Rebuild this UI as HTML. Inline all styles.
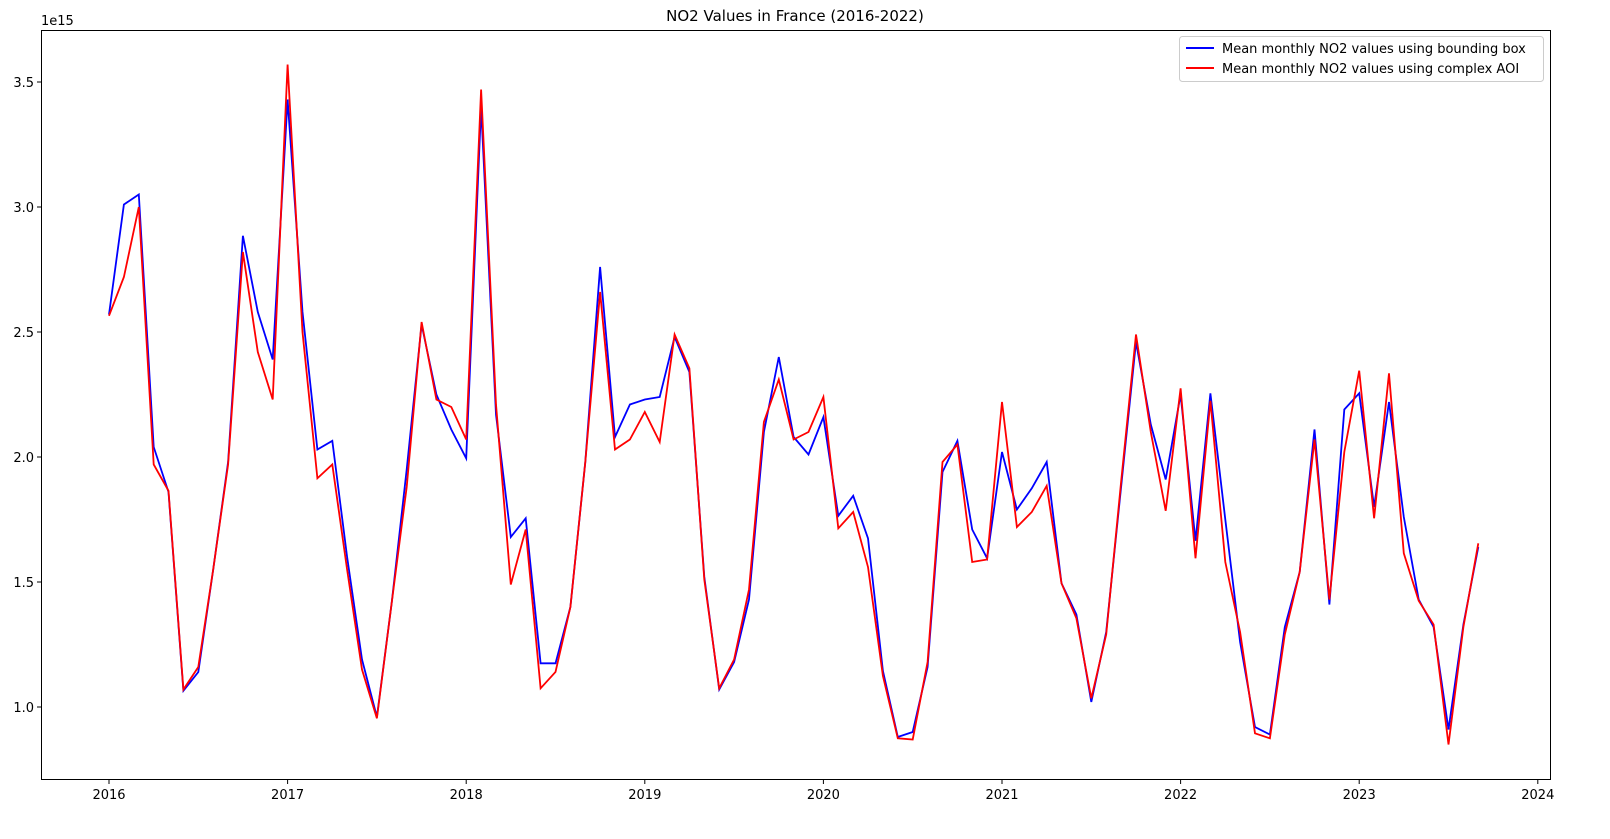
<!DOCTYPE html>
<html><head><meta charset="utf-8"><style>
body{margin:0;background:#fff;font-family:"Liberation Sans","DejaVu Sans",sans-serif}
svg text{font-family:"DejaVu Sans","Liberation Sans",sans-serif}
</style></head><body>
<svg id="chart" width="1610" height="834" xmlns="http://www.w3.org/2000/svg">
<rect width="1610" height="834" fill="#fff"/>
<text x="795" y="21" text-anchor="middle" font-size="15">NO2 Values in France (2016-2022)</text>
<text x="41" y="25" font-size="13">1e15</text>
<g id="ticks"></g>
<g id="lines"></g>
<rect x="41.5" y="30.5" width="1509" height="749" fill="none" stroke="#000" stroke-width="1"/>
<g>
<rect x="1179.5" y="36.5" width="364" height="45" rx="3" fill="#fff" stroke="#ccc"/>
<line x1="1186" y1="48" x2="1214" y2="48" stroke="#0000ff" stroke-width="2"/>
<text x="1222" y="53" font-size="13">Mean monthly NO2 values using bounding box</text>
<line x1="1186" y1="68" x2="1214" y2="68" stroke="#ff0000" stroke-width="2"/>
<text x="1222" y="73" font-size="13">Mean monthly NO2 values using complex AOI</text>
</g>
</svg>
<script>
const startYear = 2016;
const xTickLabels = ["2016","2017","2018","2019","2020","2021","2022","2023","2024"];
const yTickValues = [1.0,1.5,2.0,2.5,3.0,3.5];
const bboxValues = [2.57,3.01,3.05,2.04,1.86,1.065,1.14,1.55,1.98,2.885,2.58,2.39,
3.43,2.58,2.03,2.065,1.60,1.19,0.96,1.42,1.95,2.53,2.25,2.11,
1.995,3.40,2.17,1.68,1.755,1.175,1.175,1.40,1.98,2.76,2.08,2.21,
2.23,2.24,2.48,2.34,1.52,1.07,1.18,1.43,2.10,2.40,2.08,2.01,
2.16,1.765,1.845,1.675,1.145,0.88,0.90,1.16,1.94,2.065,1.71,1.595,
2.02,1.79,1.875,1.98,1.495,1.37,1.02,1.30,1.88,2.46,2.13,1.91,
2.25,1.665,2.255,1.75,1.26,0.92,0.89,1.32,1.54,2.11,1.41,2.19,
2.255,1.80,2.22,1.76,1.43,1.32,0.91,1.33,1.64];
const aoiValues = [2.565,2.72,3.00,1.97,1.865,1.07,1.16,1.55,1.97,2.82,2.42,2.23,
3.57,2.50,1.915,1.97,1.55,1.15,0.955,1.42,1.88,2.54,2.23,2.20,
2.07,3.47,2.21,1.49,1.71,1.075,1.14,1.40,1.98,2.66,2.03,2.07,
2.18,2.06,2.49,2.355,1.51,1.075,1.19,1.47,2.14,2.31,2.07,2.10,
2.24,1.715,1.78,1.56,1.125,0.875,0.87,1.18,1.98,2.05,1.58,1.59,
2.22,1.72,1.78,1.885,1.495,1.355,1.035,1.29,1.90,2.49,2.10,1.785,
2.275,1.595,2.225,1.58,1.30,0.895,0.875,1.29,1.54,2.07,1.43,2.02,
2.345,1.755,2.335,1.615,1.425,1.33,0.85,1.32,1.655];

const NS="http://www.w3.org/2000/svg";
function xScale(yearFrac){return 109+(yearFrac-startYear)*178.6;}
function yScale(v){return 707-(v-1.0)*250;}
const ticks=document.getElementById('ticks');
xTickLabels.forEach(function(lbl){
  const x=xScale(+lbl);
  const l=document.createElementNS(NS,'line');
  l.setAttribute('x1',x);l.setAttribute('x2',x);l.setAttribute('y1',780);l.setAttribute('y2',784);l.setAttribute('stroke','#000');
  
  
  ticks.appendChild(l);
  const t=document.createElementNS(NS,'text');
  t.setAttribute('x',x);t.setAttribute('y',799);t.setAttribute('text-anchor','middle');t.setAttribute('font-size','13');
  t.textContent=lbl;
  
  
  ticks.appendChild(t);
});
yTickValues.forEach(function(v){
  const y=yScale(v);
  const l=document.createElementNS(NS,'line');
  l.setAttribute('x1',37);l.setAttribute('x2',41);l.setAttribute('y1',y);l.setAttribute('y2',y);l.setAttribute('stroke','#000');
  
  
  ticks.appendChild(l);
  const t=document.createElementNS(NS,'text');
  t.setAttribute('x',34);t.setAttribute('y',y+5);t.setAttribute('text-anchor','end');t.setAttribute('font-size','13');
  t.textContent=v.toFixed(1);
  
  
  ticks.appendChild(t);
});
function drawSeries(vals,color,name){
  const pts=vals.map(function(v,i){return xScale(startYear+i/12).toFixed(1)+','+yScale(v).toFixed(1);}).join(' ');
  const p=document.createElementNS(NS,'polyline');
  p.setAttribute('points',pts);p.setAttribute('fill','none');p.setAttribute('stroke',color);p.setAttribute('stroke-width','1.8');p.setAttribute('stroke-linejoin','miter');
  
  
  document.getElementById('lines').appendChild(p);
}
drawSeries(bboxValues,'#0000ff','bbox-series-line');
drawSeries(aoiValues,'#ff0000','aoi-series-line');
</script>
</body></html>
